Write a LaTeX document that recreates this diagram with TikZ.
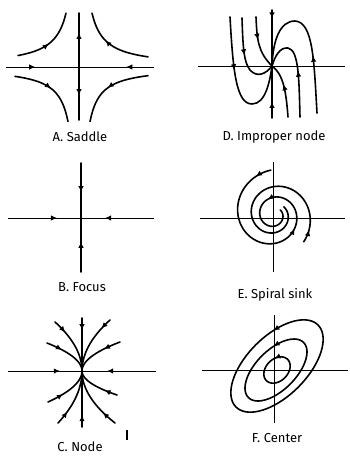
\documentclass[tikz,border=0pt]{standalone}
\usepackage{fontspec}
\setmainfont{Fira Sans}
\usepackage{tikz}
\usetikzlibrary{arrows.meta, decorations.markings}

\tikzset{
  axis/.style={line width=1pt},
  orbit/.style={line width=1.6pt, line cap=round, line join=round},
  flow/.style={postaction={decorate, decoration={markings,
      mark=at position #1 with {\arrow{Latex[length=6pt, width=5.5pt]}}}}},
  caption/.style={font=\fontsize{13}{15}\selectfont},
}

\begin{document}
\begin{tikzpicture}[x=1pt, y=-1pt]
  \useasboundingbox (0,0) rectangle (350,458);

  % A: saddle
  \draw[axis, flow=0.4] (6,67) -- (79,67);
  \draw[axis, flow=0.37] (154,67) -- (79,67);
  \draw[orbit, flow=0.63] (79,67) -- (79,13);
  \draw[orbit, flow=0.53] (79,67) -- (79,120);
  \draw[orbit, flow=0.48] plot[domain=-61:-13, samples=40] ({79+\x},{67-700/abs(\x)});
  \draw[orbit, flow=0.6] plot[domain=69:13, samples=40] ({79+\x},{67-700/abs(\x)});
  \draw[orbit, flow=0.5] plot[domain=-64:-11, samples=40] ({79+\x},{67+600/abs(\x)});
  \draw[orbit, flow=0.52] plot[domain=69:11, samples=40] ({79+\x},{67+600/abs(\x)});
  \node[caption] (saddlelabel) at (80,137) {A. Saddle};

  % B: focus
  \draw[axis, flow=0.67] (8,218) -- (81,218);
  \draw[axis, flow=0.67] (154,218) -- (81,218);
  \draw[orbit, flow=0.53] (81,163) -- (81,218);
  \draw[orbit, flow=0.56] (81,272) -- (81,218);
  \node[caption] (focuslabel) at (82,287) {B. Focus};

  % C: node
  \draw[axis, flow=0.7] (8,371) -- (82,371);
  \draw[axis, flow=0.66] (156,371) -- (82,371);
  \draw[orbit, flow=0.23] (82,318) -- (82,371);
  \draw[orbit, flow=0.21] (82,427) -- (82,371);
  \foreach \u/\v/\p in {-27/-49/0.25, -35/-28/0.35, 28/-51/0.2, 38/-29/0.35,
                        -24/52/0.25, -34/31/0.35, 33/52/0.25, 35/24/0.3} {
    \draw[orbit, flow=\p] plot[domain=1:0, samples=30] ({82+\u*\x*\x},{371+\v*\x});
  }
  \draw[line width=1.2pt] (127,430) -- (127,440);
  \node[caption] (nodelabel) at (80,447) {C. Node};

  % D: improper node
  \draw[axis] (198,66) -- (345,66);
  \draw[orbit, flow=0.15] (272,10) -- (272,66);
  \draw[orbit, flow=0.31] (272,118) -- (272,66);
  \draw[orbit, flow=0.38] (230,17) .. controls (233,70) and (236,104) .. (252,104)
                                   .. controls (266,104) and (270,80) .. (272,66);
  \draw[orbit, flow=0.47] (242,18) .. controls (243,50) and (244,62) .. (250,70)
                                   .. controls (257,78) and (266,74) .. (272,66);
  \draw[orbit, flow=0.43] (256,17) .. controls (257,40) and (258,52) .. (272,66);
  \draw[orbit, flow=0.6] (288,117) .. controls (286,90) and (283,74) .. (272,66);
  \draw[orbit, flow=0.47] (300,117) .. controls (299,80) and (299,50) .. (288,48)
                                    .. controls (280,47) and (275,56) .. (272,66);
  \draw[orbit, flow=0.37] (317,113) .. controls (314,60) and (313,22) .. (295,21)
                                    .. controls (280,21) and (273,40) .. (272,66);
  \node[caption] (improperlabel) at (274,137) {D. Improper node};

  % E: spiral sink
  \draw[axis] (200,218) -- (345,218);
  \draw[axis] (273,162) -- (273,272);
  \draw[orbit, flow=0.065, flow=0.55, flow=0.76]
    plot[domain=94:760, samples=200]
    ({274+45*exp(-0.0026*(\x-94))*cos(\x)},{215-45*exp(-0.0026*(\x-94))*sin(\x)});
  \draw[orbit, flow=0.07]
    plot[domain=-42:400, samples=150]
    ({274+40*exp(-0.0026*(\x+42))*cos(\x)},{215-40*exp(-0.0026*(\x+42))*sin(\x)});
  \node[caption] (spirallabel) at (275,295) {E. Spiral sink};

  % F: center
  \draw[axis] (202,370) -- (348,370);
  \draw[axis] (274,315) -- (274,423);
  \foreach \cx/\cy/\a/\b in {277/366/58/30, 276/370/39/20, 277/370/15/11} {
    \draw[orbit, flow=0.17] plot[domain=0:355, samples=72]
      ({\cx+0.707*\a*cos(\x)-0.707*\b*sin(\x)},{\cy-0.707*\a*cos(\x)-0.707*\b*sin(\x)}) -- cycle;
  }
  \node[caption] (centerlabel) at (277,438) {F. Center};
\end{tikzpicture}
\end{document}
